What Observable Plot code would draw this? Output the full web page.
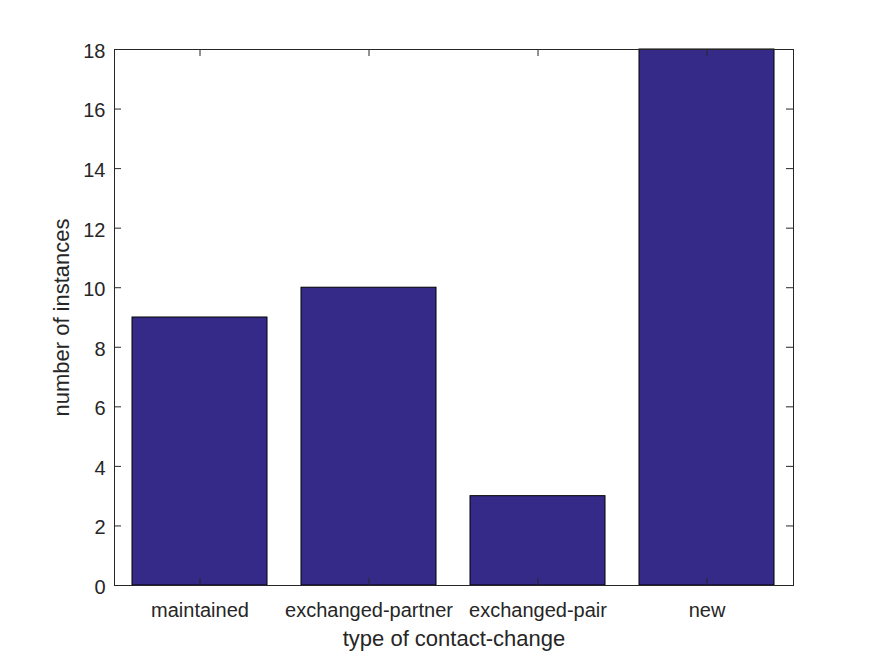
<!DOCTYPE html>
<html>
<head>
<meta charset="utf-8">
<script src="https://cdn.jsdelivr.net/npm/d3@7"></script>
<script src="https://cdn.jsdelivr.net/npm/@observablehq/plot@0.6"></script>
<style>
  body { margin: 0; background: #fff; }
  #chart svg { display: block; }
</style>
</head>
<body>
<div id="chart"></div>
<script>
const categories = ["maintained", "exchanged-partner", "exchanged-pair", "new"];
const counts = [9, 10, 3, 18];
const yTicks = [0, 2, 4, 6, 8, 10, 12, 14, 16, 18];

const data = categories.map((c, i) => ({category: c, count: counts[i]}));

const W = 875, H = 656;
const mL = 114, mR = 82, mT = 49, mB = 71;
const frameW = W - mL - mR, frameH = H - mT - mB;
const tickLen = 7;
const axisColor = "#262626";

const chart = Plot.plot({
  width: W,
  height: H,
  marginLeft: mL,
  marginRight: mR,
  marginTop: mT,
  marginBottom: mB,
  style: {fontFamily: "'Liberation Sans', Arial, Helvetica, sans-serif", fontSize: "20px", color: axisColor, background: "#fff"},
  x: {domain: categories, paddingInner: 0.2, paddingOuter: 0.1},
  y: {domain: [0, 18]},
  marks: [
    Plot.barY(data, {x: "category", y: "count", fill: "#352a87", stroke: "#000", strokeWidth: 1}),
    Plot.tickY(yTicks, {y: d => d, stroke: axisColor, insetRight: frameW - tickLen}),
    Plot.tickY(yTicks, {y: d => d, stroke: axisColor, insetLeft: frameW - tickLen}),
    Plot.tickX(categories, {x: d => d, stroke: axisColor, insetTop: frameH - tickLen}),
    Plot.tickX(categories, {x: d => d, stroke: axisColor, insetBottom: frameH - tickLen}),
    Plot.frame({stroke: axisColor, strokeWidth: 1}),
    Plot.axisY(yTicks, {
      tickSize: 0, tickPadding: 9, fontSize: 20, dy: 2,
      label: null
    }),
    Plot.axisY({
      ticks: [], tickSize: 0, fontSize: 22,
      label: "number of instances", labelAnchor: "center", labelArrow: "none", labelOffset: 61
    }),
    Plot.axisX(categories, {
      tickSize: 0, tickPadding: 17, fontSize: 20,
      label: null
    }),
    Plot.axisX({
      ticks: [], tickSize: 0, fontSize: 22,
      label: "type of contact-change", labelAnchor: "center", labelArrow: "none", labelOffset: 60
    })
  ]
});

chart.querySelectorAll("g[aria-label='y-axis label'] text, g[aria-label='x-axis label'] text").forEach(t => {
  t.style.fontSize = "22px";
});
chart.querySelectorAll("g[aria-label='y-axis tick label'], g[aria-label='x-axis tick label']").forEach(g => {
  g.style.fontSize = "20px";
});

document.getElementById("chart").append(chart);
</script>
</body>
</html>
